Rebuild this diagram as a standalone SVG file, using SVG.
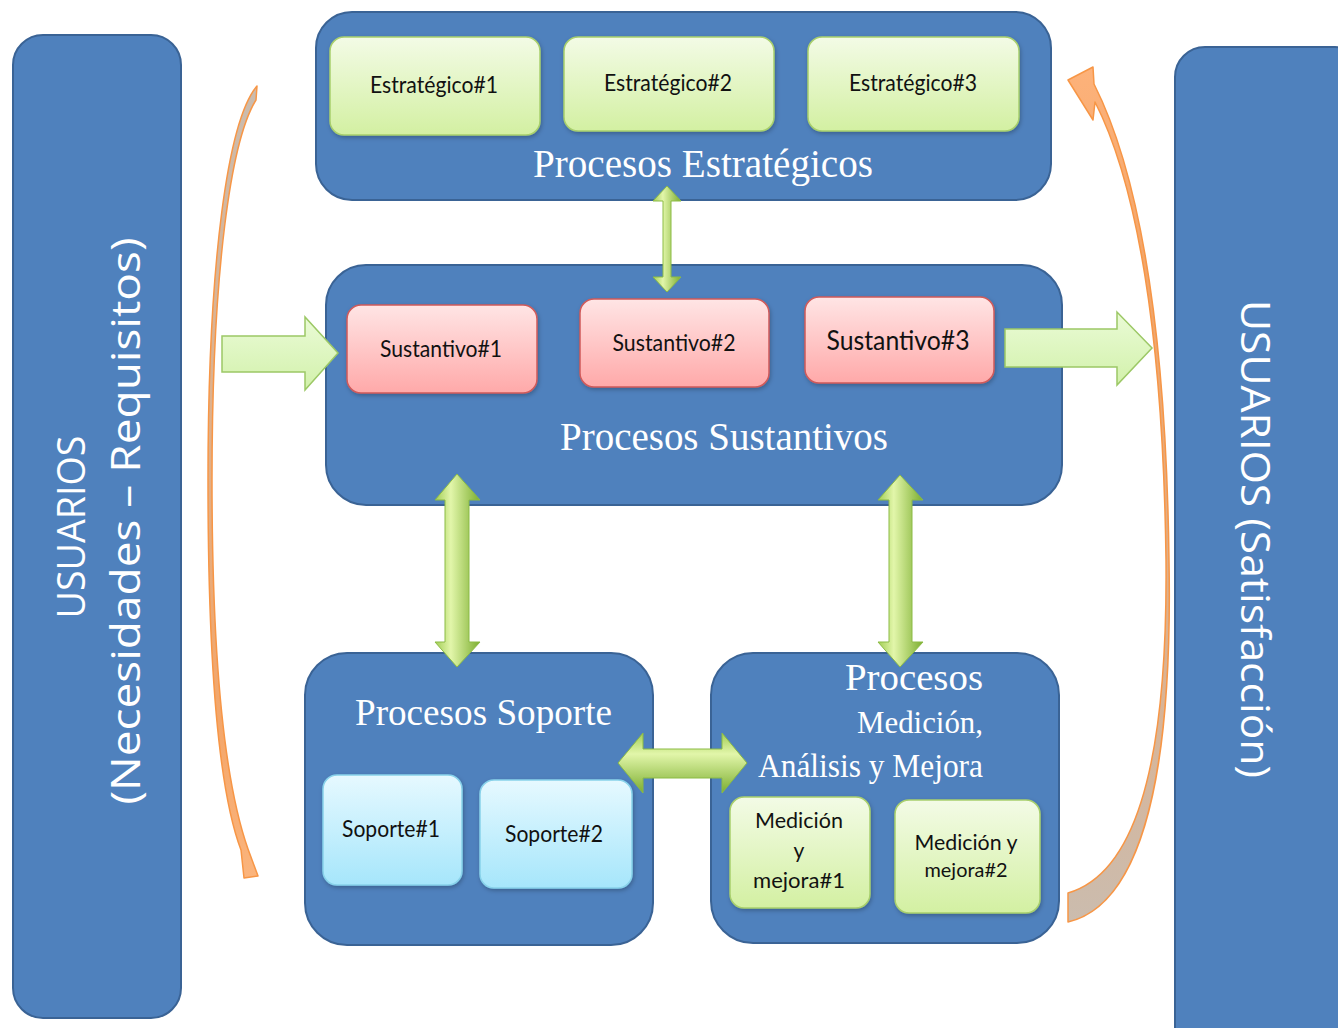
<svg xmlns="http://www.w3.org/2000/svg" width="1338" height="1028" viewBox="0 0 1338 1028">
<defs>
<linearGradient id="gGreen" x1="0" y1="0" x2="0" y2="1"><stop offset="0" stop-color="#f3fbe6"/><stop offset="1" stop-color="#d3f0a2"/></linearGradient>
<linearGradient id="gPink" x1="0" y1="0" x2="0" y2="1"><stop offset="0" stop-color="#ffe5e5"/><stop offset="1" stop-color="#ffa9a9"/></linearGradient>
<linearGradient id="gCyan" x1="0" y1="0" x2="0" y2="1"><stop offset="0" stop-color="#e6f9ff"/><stop offset="1" stop-color="#a6e6fb"/></linearGradient>
<linearGradient id="gFlat" x1="0" y1="0" x2="0" y2="1"><stop offset="0" stop-color="#eafbd6"/><stop offset="1" stop-color="#d2f1ab"/></linearGradient>
<linearGradient id="gV" x1="0" y1="0" x2="1" y2="0"><stop offset="0" stop-color="#a2cd55"/><stop offset="0.35" stop-color="#e2f6aa"/><stop offset="1" stop-color="#7cae30"/></linearGradient>
<linearGradient id="gH" x1="0" y1="0" x2="0" y2="1"><stop offset="0" stop-color="#a2cd55"/><stop offset="0.35" stop-color="#e2f6aa"/><stop offset="1" stop-color="#7cae30"/></linearGradient>
<linearGradient id="gArcL" x1="0" y1="0" x2="0" y2="1"><stop offset="0" stop-color="#c9bcb0"/><stop offset="0.8" stop-color="#f3a66a"/><stop offset="1" stop-color="#fbb47c"/></linearGradient>
<linearGradient id="gArcR" x1="0" y1="1" x2="0" y2="0"><stop offset="0" stop-color="#cbbcae"/><stop offset="0.75" stop-color="#f1a56a"/><stop offset="1" stop-color="#fdb27a"/></linearGradient>
<filter id="sh" x="-10%" y="-10%" width="120%" height="130%"><feDropShadow dx="1" dy="2" stdDeviation="2" flood-color="#000" flood-opacity="0.25"/></filter>
</defs>
<style>
.blue{fill:#4f81bd;stroke:#3a6395;stroke-width:2}
.gbox{fill:url(#gGreen);stroke:#a8cf6c;stroke-width:1.5}
.pbox{fill:url(#gPink);stroke:#d05a5a;stroke-width:1.5}
.cbox{fill:url(#gCyan);stroke:#88d2ea;stroke-width:1.5}
.lbl{font-family:Lato,"Open Sans",sans-serif;fill:#111;text-anchor:middle}
.ttl{font-family:"Liberation Serif","Times New Roman",serif;fill:#fff}
.usr{font-family:"Open Sans","Noto Sans",sans-serif;fill:#fff;text-anchor:middle}
.flat{fill:url(#gFlat);stroke:#9cc866;stroke-width:1.5}
.dbl{fill:url(#gV);stroke:#8bbb45;stroke-width:1}
.dblh{fill:url(#gH);stroke:#8bbb45;stroke-width:1}
.arc{stroke:#f79646;stroke-width:1.5;stroke-linejoin:round}
</style>
<rect width="1338" height="1028" fill="#fff"/>

<g id="usuarios-izq">
<rect class="blue" x="13" y="35" width="168" height="983" rx="30"/>
<text class="usr" font-size="39" transform="translate(85,527) rotate(-90)" textLength="183" lengthAdjust="spacingAndGlyphs">USUARIOS</text>
<text class="usr" font-size="40" transform="translate(140,521) rotate(-90)" textLength="567" lengthAdjust="spacingAndGlyphs">(Necesidades – Requisitos)</text>
</g>

<g id="usuarios-der">
<rect class="blue" x="1175" y="47" width="190" height="1010" rx="30"/>
<text class="usr" font-size="40" transform="translate(1241,539) rotate(90)" textLength="478" lengthAdjust="spacingAndGlyphs">USUARIOS (Satisfacción)</text>
</g>

<g id="procesos-estrategicos">
<rect class="blue" x="316" y="12" width="735" height="188" rx="36"/>
<g filter="url(#sh)">
<rect class="gbox" x="330" y="37" width="210" height="98" rx="14"/>
<rect class="gbox" x="564" y="37" width="210" height="94" rx="14"/>
<rect class="gbox" x="808" y="37" width="211" height="94" rx="14"/>
</g>
<text class="lbl" x="434" y="93" font-size="24" textLength="128" lengthAdjust="spacingAndGlyphs">Estratégico#1</text>
<text class="lbl" x="668" y="91" font-size="24" textLength="128" lengthAdjust="spacingAndGlyphs">Estratégico#2</text>
<text class="lbl" x="913" y="91" font-size="24" textLength="128" lengthAdjust="spacingAndGlyphs">Estratégico#3</text>
<text class="ttl" x="533" y="177" font-size="41" textLength="340" lengthAdjust="spacingAndGlyphs">Procesos Estratégicos</text>
</g>

<g id="procesos-sustantivos">
<rect class="blue" x="326" y="265" width="736" height="240" rx="40"/>
<g filter="url(#sh)">
<rect class="pbox" x="347" y="305" width="190" height="88" rx="14"/>
<rect class="pbox" x="580" y="299" width="189" height="88" rx="14"/>
<rect class="pbox" x="805" y="297" width="189" height="86" rx="14"/>
</g>
<text class="lbl" x="441" y="357" font-size="24" textLength="122" lengthAdjust="spacingAndGlyphs">Sustantivo#1</text>
<text class="lbl" x="674" y="351" font-size="24" textLength="123" lengthAdjust="spacingAndGlyphs">Sustantivo#2</text>
<text class="lbl" x="898" y="350" font-size="27" textLength="143" lengthAdjust="spacingAndGlyphs">Sustantivo#3</text>
<text class="ttl" x="560" y="450" font-size="41" textLength="328" lengthAdjust="spacingAndGlyphs">Procesos Sustantivos</text>
</g>

<g id="procesos-soporte">
<rect class="blue" x="305" y="653" width="348" height="292" rx="42"/>
<g filter="url(#sh)">
<rect class="cbox" x="323" y="775" width="139" height="110" rx="14"/>
<rect class="cbox" x="480" y="780" width="152" height="108" rx="14"/>
</g>
<text class="ttl" x="355" y="725" font-size="38" textLength="257" lengthAdjust="spacingAndGlyphs">Procesos Soporte</text>
<text class="lbl" x="391" y="837" font-size="23" textLength="98" lengthAdjust="spacingAndGlyphs">Soporte#1</text>
<text class="lbl" x="554" y="842" font-size="23" textLength="98" lengthAdjust="spacingAndGlyphs">Soporte#2</text>
</g>

<g id="procesos-medicion">
<rect class="blue" x="711" y="653" width="348" height="290" rx="42"/>
<g filter="url(#sh)">
<rect class="gbox" x="730" y="797" width="140" height="111" rx="14"/>
<rect class="gbox" x="895" y="800" width="145" height="113" rx="14"/>
</g>
<text class="ttl" x="845" y="690" font-size="38" textLength="138" lengthAdjust="spacingAndGlyphs">Procesos</text>
<text class="ttl" x="857" y="733" font-size="32" textLength="126" lengthAdjust="spacingAndGlyphs">Medición,</text>
<text class="ttl" x="758" y="777" font-size="33" textLength="225" lengthAdjust="spacingAndGlyphs">Análisis y Mejora</text>
<text class="lbl" x="799" y="828" font-size="21" textLength="88" lengthAdjust="spacingAndGlyphs">Medición</text>
<text class="lbl" x="799" y="858" font-size="21">y</text>
<text class="lbl" x="799" y="888" font-size="21" textLength="92" lengthAdjust="spacingAndGlyphs">mejora#1</text>
<text class="lbl" x="966" y="850" font-size="21" textLength="103" lengthAdjust="spacingAndGlyphs">Medición y</text>
<text class="lbl" x="966" y="877" font-size="19" textLength="83" lengthAdjust="spacingAndGlyphs">mejora#2</text>
</g>

<g id="conectores">
<polygon class="flat" points="222,336 305,336 305,317 338,353 305,390 305,372 222,372"/>
<polygon class="flat" points="1005,329 1117,329 1117,312 1152,348 1117,385 1117,367 1005,367"/>
<polygon class="dbl" points="667,186 681,201 671,201 671,277 681,277 667,292 653,277 663,277 663,201 653,201"/>
<polygon class="dbl" points="457,474 480,500 469,500 469,642 480,642 457,667 435,642 445,642 445,500 435,500"/>
<polygon class="dbl" points="900,475 923,500 912,500 912,642 923,642 900,667 878,642 889,642 889,500 878,500"/>
<polygon class="dblh" points="618,763 643,733 643,749 722,749 722,733 747,763 722,793 722,778 643,778 643,793"/>
<path class="arc" fill="url(#gArcL)" d="M257,86 C228,120 208,260 208,480 C208,690 222,800 241,850 L244,878 L258,876 L248,849 C229,795 212,690 212,480 C212,270 231,140 256,100 Z"/>
<path class="arc" fill="url(#gArcR)" d="M1068,922 C1140,905 1173,780 1169,560 C1166,330 1140,175 1094,84 L1093,67 L1068,80 L1093,120 L1095,102 C1136,182 1163,330 1166,560 C1168,780 1130,875 1068,893 Z"/>
</g>
</svg>
